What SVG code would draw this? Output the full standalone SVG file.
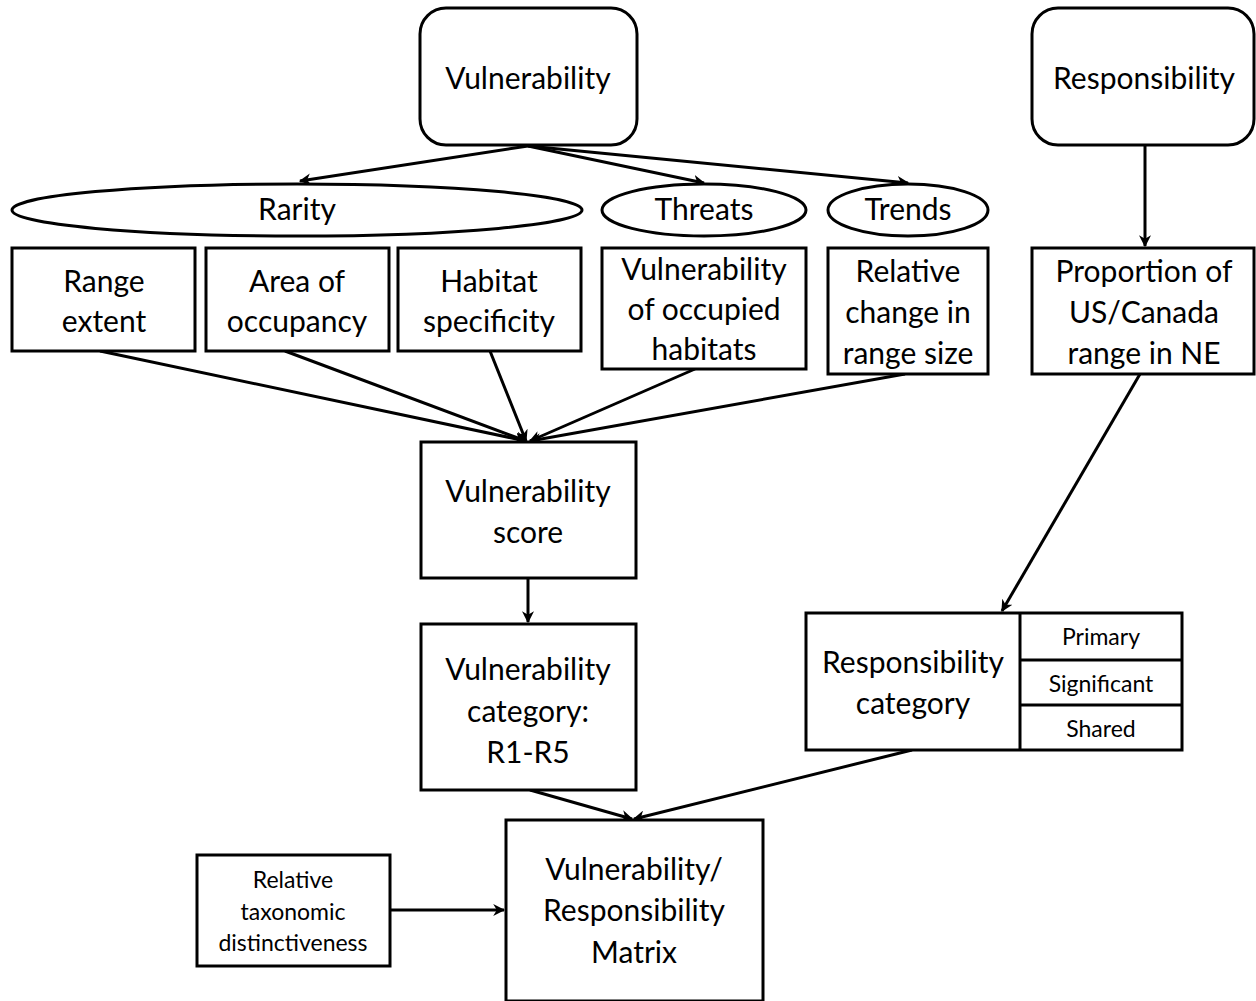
<svg xmlns="http://www.w3.org/2000/svg" width="1256" height="1001" viewBox="0 0 1256 1001">
<style>
.n{fill:#fff;stroke:#000;stroke-width:3}
.t{font-family:Lato,"Open Sans","Liberation Sans",sans-serif;font-size:30px;fill:#000;text-anchor:middle}
.s{font-family:Lato,"Open Sans","Liberation Sans",sans-serif;font-size:23px;fill:#000;text-anchor:middle}
.c{fill:none;stroke:#000;stroke-width:3;marker-end:url(#a)}
</style>
<defs>
<marker id="a" viewBox="0 0 10 10" refX="9" refY="5" markerWidth="4" markerHeight="4" orient="auto" markerUnits="strokeWidth">
<path d="M0,0 L10,5 L0,10 L3,5 Z" fill="#000"/>
</marker>
</defs>
<rect width="1256" height="1001" fill="#fff"/>
<g id="connectors">
<line class="c" x1="528" y1="146" x2="300" y2="181"/>
<line class="c" x1="528" y1="146" x2="704" y2="183"/>
<line class="c" x1="528" y1="146" x2="908" y2="183"/>
<line class="c" x1="1145" y1="146" x2="1145" y2="246"/>
<line class="c" x1="100" y1="351" x2="526" y2="441"/>
<line class="c" x1="285" y1="351" x2="526" y2="441"/>
<line class="c" x1="490" y1="351" x2="526" y2="441"/>
<line class="c" x1="695" y1="369" x2="530" y2="441"/>
<line class="c" x1="905" y1="374" x2="530" y2="441"/>
<line class="c" x1="528" y1="578" x2="528" y2="622"/>
<line class="c" x1="1140" y1="374" x2="1002" y2="611"/>
<line class="c" x1="530" y1="790" x2="632" y2="819"/>
<line class="c" x1="912" y1="750" x2="634" y2="819"/>
<line class="c" x1="390" y1="910" x2="504" y2="910"/>
</g>
<g id="vulnerability">
<rect class="n" x="420" y="8" width="217" height="137" rx="26"/>
<text class="t" x="528" y="89">Vulnerability</text>
</g>
<g id="responsibility">
<rect class="n" x="1032" y="8" width="222" height="137" rx="26"/>
<text class="t" x="1144" y="89">Responsibility</text>
</g>
<g id="rarity">
<ellipse class="n" cx="297" cy="210" rx="285" ry="26"/>
<text class="t" x="297" y="220">Rarity</text>
</g>
<g id="threats">
<ellipse class="n" cx="704" cy="210" rx="102" ry="26"/>
<text class="t" x="704" y="220">Threats</text>
</g>
<g id="trends">
<ellipse class="n" cx="908" cy="210" rx="80" ry="26"/>
<text class="t" x="908" y="220">Trends</text>
</g>
<g id="range-extent">
<rect class="n" x="12" y="248" width="183" height="103"/>
<text class="t" x="104" y="292">Range</text>
<text class="t" x="104" y="332">extent</text>
</g>
<g id="area-of-occupancy">
<rect class="n" x="206" y="248" width="183" height="103"/>
<text class="t" x="297" y="292">Area of</text>
<text class="t" x="297" y="332">occupancy</text>
</g>
<g id="habitat-specificity">
<rect class="n" x="398" y="248" width="183" height="103"/>
<text class="t" x="489" y="292">Habitat</text>
<text class="t" x="489" y="332">specificity</text>
</g>
<g id="vuln-occupied">
<rect class="n" x="602" y="248" width="204" height="121"/>
<text class="t" x="704" y="280">Vulnerability</text>
<text class="t" x="704" y="320">of occupied</text>
<text class="t" x="704" y="360">habitats</text>
</g>
<g id="relative-change">
<rect class="n" x="828" y="248" width="160" height="126"/>
<text class="t" x="908" y="282">Relative</text>
<text class="t" x="908" y="323">change in</text>
<text class="t" x="908" y="364">range size</text>
</g>
<g id="proportion">
<rect class="n" x="1032" y="248" width="222" height="126"/>
<text class="t" x="1144" y="282">Proportion of</text>
<text class="t" x="1144" y="323">US/Canada</text>
<text class="t" x="1144" y="364">range in NE</text>
</g>
<g id="vulnerability-score">
<rect class="n" x="421" y="442" width="215" height="136"/>
<text class="t" x="528" y="502">Vulnerability</text>
<text class="t" x="528" y="543">score</text>
</g>
<g id="vulnerability-category">
<rect class="n" x="421" y="624" width="215" height="166"/>
<text class="t" x="528" y="680">Vulnerability</text>
<text class="t" x="528" y="722">category:</text>
<text class="t" x="528" y="763">R1-R5</text>
</g>
<g id="responsibility-category">
<rect class="n" x="806" y="613" width="376" height="137"/>
<line x1="1020" y1="613" x2="1020" y2="750" stroke="#000" stroke-width="3"/>
<line x1="1020" y1="660" x2="1182" y2="660" stroke="#000" stroke-width="3"/>
<line x1="1020" y1="705" x2="1182" y2="705" stroke="#000" stroke-width="3"/>
<text class="t" x="913" y="673">Responsibility</text>
<text class="t" x="913" y="714">category</text>
<text class="s" x="1101" y="645">Primary</text>
<text class="s" x="1101" y="692">Significant</text>
<text class="s" x="1101" y="737">Shared</text>
</g>
<g id="matrix">
<rect class="n" x="506" y="820" width="257" height="181"/>
<text class="t" x="634" y="880">Vulnerability/</text>
<text class="t" x="634" y="921">Responsibility</text>
<text class="t" x="634" y="963">Matrix</text>
</g>
<g id="taxonomic">
<rect class="n" x="197" y="855" width="193" height="111"/>
<text class="s" x="293" y="888">Relative</text>
<text class="s" x="293" y="920">taxonomic</text>
<text class="s" x="293" y="951">distinctiveness</text>
</g>
</svg>
